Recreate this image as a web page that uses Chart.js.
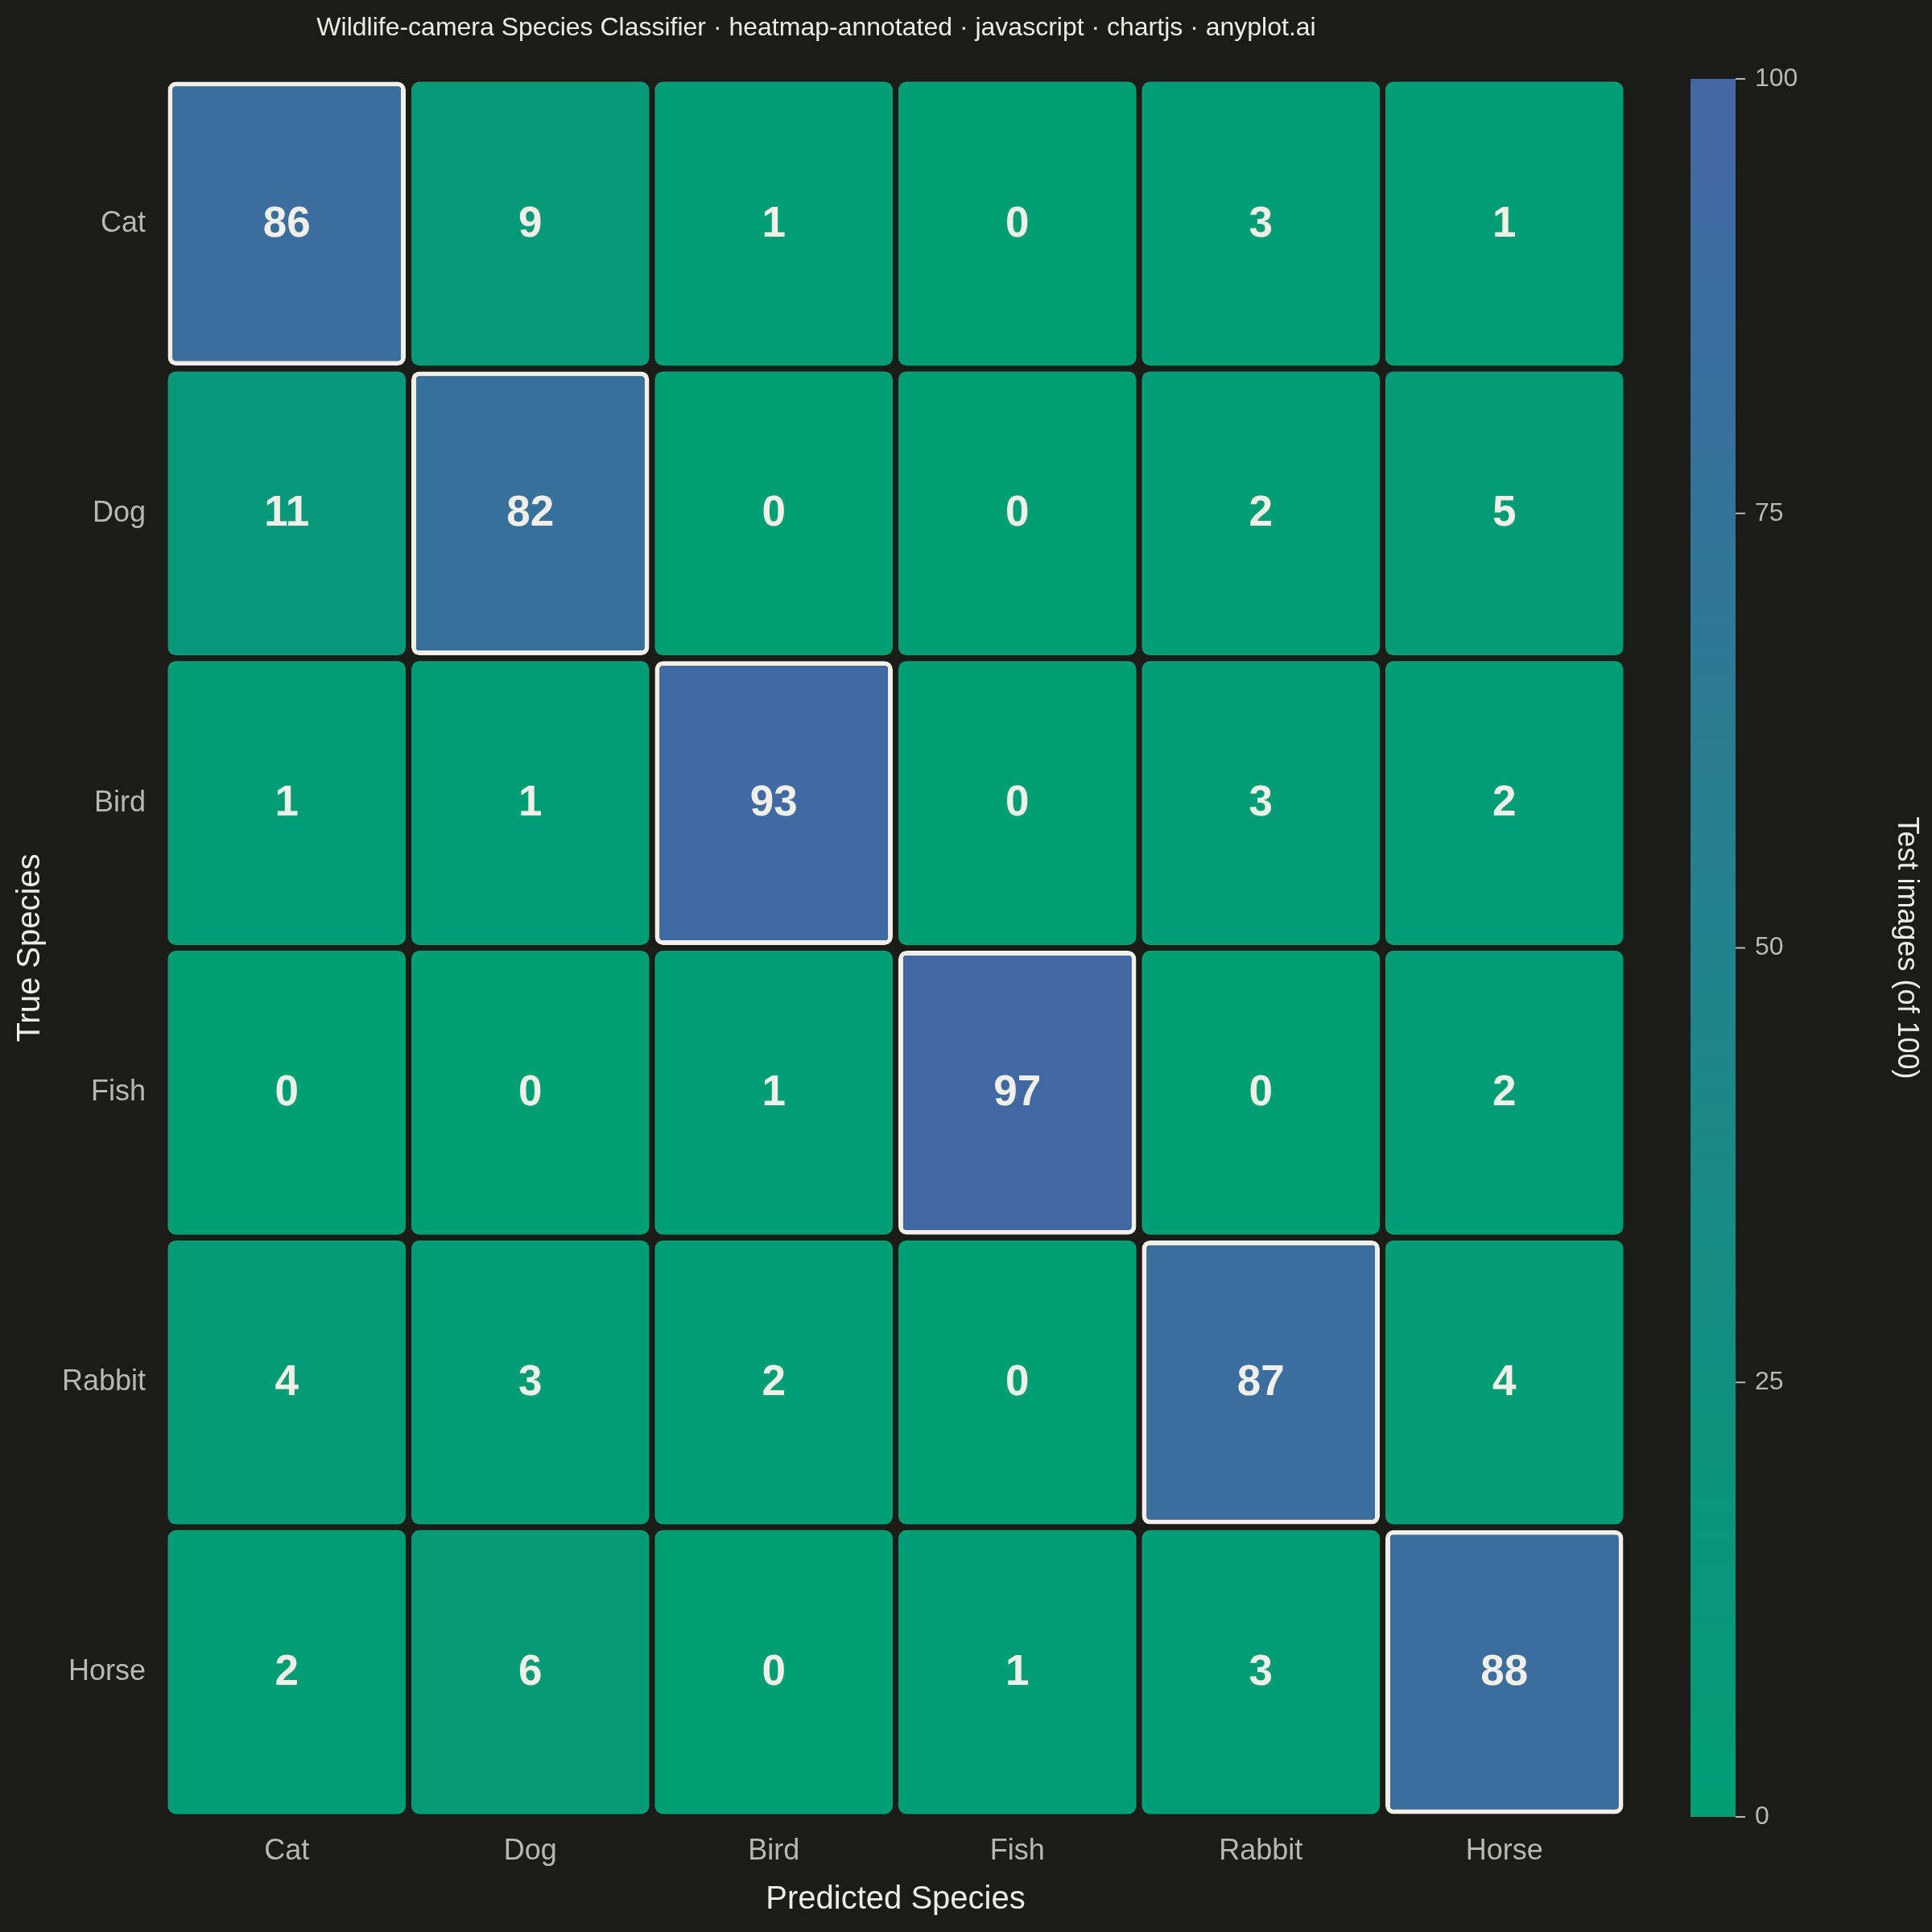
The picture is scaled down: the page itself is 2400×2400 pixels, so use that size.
<!DOCTYPE html>
<html>
<head>
<meta charset="utf-8">
<script src="https://cdn.jsdelivr.net/npm/chart.js@4.4.1/dist/chart.umd.min.js"></script>
<style>
  html, body { margin: 0; padding: 0; background: #1b1b18; }
  #wrap { width: 2400px; height: 2400px; }
</style>
</head>
<body>
<div id="wrap"><canvas id="c" width="2400" height="2400" style="width:2400px;height:2400px"></canvas></div>
<script>
// ---- data ----
const predictedLabels = ['Cat', 'Dog', 'Bird', 'Fish', 'Rabbit', 'Horse'];
const trueLabels = ['Cat', 'Dog', 'Bird', 'Fish', 'Rabbit', 'Horse'];
const rowCat    = [86, 9, 1, 0, 3, 1];
const rowDog    = [11, 82, 0, 0, 2, 5];
const rowBird   = [1, 1, 93, 0, 3, 2];
const rowFish   = [0, 0, 1, 97, 0, 2];
const rowRabbit = [4, 3, 2, 0, 87, 4];
const rowHorse  = [2, 6, 0, 1, 3, 88];
const colorbarTicks = [0, 25, 50, 75, 100];
const colorMin = 0, colorMax = 100;

const titleText = 'Wildlife-camera Species Classifier · heatmap-annotated · javascript · chartjs · anyplot.ai';
const xTitle = 'Predicted Species';
const yTitle = 'True Species';
const cbTitle = 'Test images (of 100)';

// ---- styling ----
const FONT = "'Liberation Sans', Arial, sans-serif";
const BG = '#1b1b18';
const LOW = [0, 158, 115];
const HIGH = [68, 102, 165];
const TICK_COLOR = '#b8b8b0';
const TEXT_COLOR = '#ecebe4';
const CELL_TEXT = '#f0efe8';

function colorFor(v) {
  const t = Math.max(0, Math.min(1, (v - colorMin) / (colorMax - colorMin)));
  const c = LOW.map((l, i) => Math.round(l + (HIGH[i] - l) * t));
  return `rgb(${c[0]},${c[1]},${c[2]})`;
}

const matrix = [rowCat, rowDog, rowBird, rowFish, rowRabbit, rowHorse];
const HALF = 0.49;
const datasets = matrix.map((row, r) => ({
  label: trueLabels[r],
  data: row.map((v, c) => ({ x: predictedLabels[c], y: [r - HALF, r + HALF], v: v, r: r, c: c })),
  backgroundColor: ctx => colorFor(ctx.raw.v),
  borderColor: ctx => ctx.raw.r === ctx.raw.c ? '#f0efe8' : 'rgba(0,0,0,0)',
  borderWidth: ctx => ctx.raw.r === ctx.raw.c ? 6 : 0,
  borderRadius: 10,
  borderSkipped: false,
  grouped: false,
  barPercentage: 0.977,
  categoryPercentage: 1.0
}));

const bgPlugin = {
  id: 'bg',
  beforeDraw(chart) {
    const ctx = chart.ctx;
    ctx.save();
    ctx.fillStyle = BG;
    ctx.fillRect(0, 0, chart.width, chart.height);
    ctx.restore();
  }
};

const cellLabels = {
  id: 'cellLabels',
  afterDatasetsDraw(chart) {
    const ctx = chart.ctx;
    ctx.save();
    ctx.font = `bold 53px ${FONT}`;
    ctx.fillStyle = CELL_TEXT;
    ctx.textAlign = 'center';
    ctx.textBaseline = 'middle';
    chart.data.datasets.forEach((ds, di) => {
      const meta = chart.getDatasetMeta(di);
      meta.data.forEach((el, i) => {
        const p = el.getCenterPoint();
        ctx.fillText(String(ds.data[i].v), p.x, p.y + 1);
      });
    });
    ctx.restore();
  }
};

const colorbar = {
  id: 'colorbar',
  afterDraw(chart) {
    const ctx = chart.ctx;
    const cb = chart.scales.cb;
    const yTop = cb.getPixelForValue(colorMax);
    const yBot = cb.getPixelForValue(colorMin);
    const x0 = chart.chartArea.right + 80;
    const w = 56;
    ctx.save();
    const g = ctx.createLinearGradient(0, yBot, 0, yTop);
    g.addColorStop(0, colorFor(colorMin));
    g.addColorStop(1, colorFor(colorMax));
    ctx.fillStyle = g;
    ctx.fillRect(x0, yTop, w, yBot - yTop);
    ctx.strokeStyle = TICK_COLOR;
    ctx.lineWidth = 2;
    ctx.fillStyle = TICK_COLOR;
    ctx.font = `32px ${FONT}`;
    ctx.textAlign = 'left';
    ctx.textBaseline = 'middle';
    colorbarTicks.forEach(t => {
      const y = cb.getPixelForValue(t);
      ctx.beginPath();
      ctx.moveTo(x0 + w, y);
      ctx.lineTo(x0 + w + 12, y);
      ctx.stroke();
      ctx.fillText(String(t), x0 + w + 24, y);
    });
    ctx.translate(2368, (yTop + yBot) / 2);
    ctx.rotate(Math.PI / 2);
    ctx.fillStyle = TEXT_COLOR;
    ctx.font = `36px ${FONT}`;
    ctx.textAlign = 'center';
    ctx.textBaseline = 'middle';
    ctx.fillText(cbTitle, 0, 0);
    ctx.restore();
  }
};

new Chart(document.getElementById('c'), {
  type: 'bar',
  data: { labels: predictedLabels, datasets: datasets },
  options: {
    responsive: false,
    devicePixelRatio: 1,
    animation: false,
    layout: { padding: { left: 0, right: 372, top: 0, bottom: 0 } },
    plugins: {
      legend: { display: false },
      tooltip: { enabled: false },
      title: {
        display: true,
        text: titleText,
        color: TEXT_COLOR,
        font: { family: FONT, size: 32, weight: 'normal' },
        padding: { top: 15.5, bottom: 44.1 }
      }
    },
    scales: {
      x: {
        type: 'category',
        position: 'bottom',
        offset: true,
        grid: { display: false, drawTicks: false },
        border: { display: false },
        ticks: { color: TICK_COLOR, font: { family: FONT, size: 36 }, padding: 21 },
        title: { display: true, text: xTitle, color: TEXT_COLOR, font: { family: FONT, size: 40 }, padding: { top: 0, bottom: 16 } },
        afterFit(s) { s.height = 143; }
      },
      y: {
        type: 'linear',
        position: 'left',
        reverse: true,
        min: -0.5,
        max: trueLabels.length - 0.5,
        afterBuildTicks(s) { s.ticks = trueLabels.map((_, i) => ({ value: i })); },
        grid: { display: false, drawTicks: false },
        border: { display: false },
        ticks: {
          color: TICK_COLOR,
          font: { family: FONT, size: 36 },
          padding: 24,
          callback: v => trueLabels[v] !== undefined ? trueLabels[v] : ''
        },
        title: { display: true, text: yTitle, color: TEXT_COLOR, font: { family: FONT, size: 40 }, padding: { top: 14, bottom: 0 } },
        afterFit(s) { s.width = 205; }
      },
      cb: {
        type: 'linear',
        position: 'right',
        min: colorMin,
        max: colorMax,
        grid: { display: false, drawTicks: false },
        border: { display: false },
        ticks: { display: false },
        afterFit(s) { s.width = 8; }
      }
    }
  },
  plugins: [bgPlugin, cellLabels, colorbar]
});
</script>
</body>
</html>
